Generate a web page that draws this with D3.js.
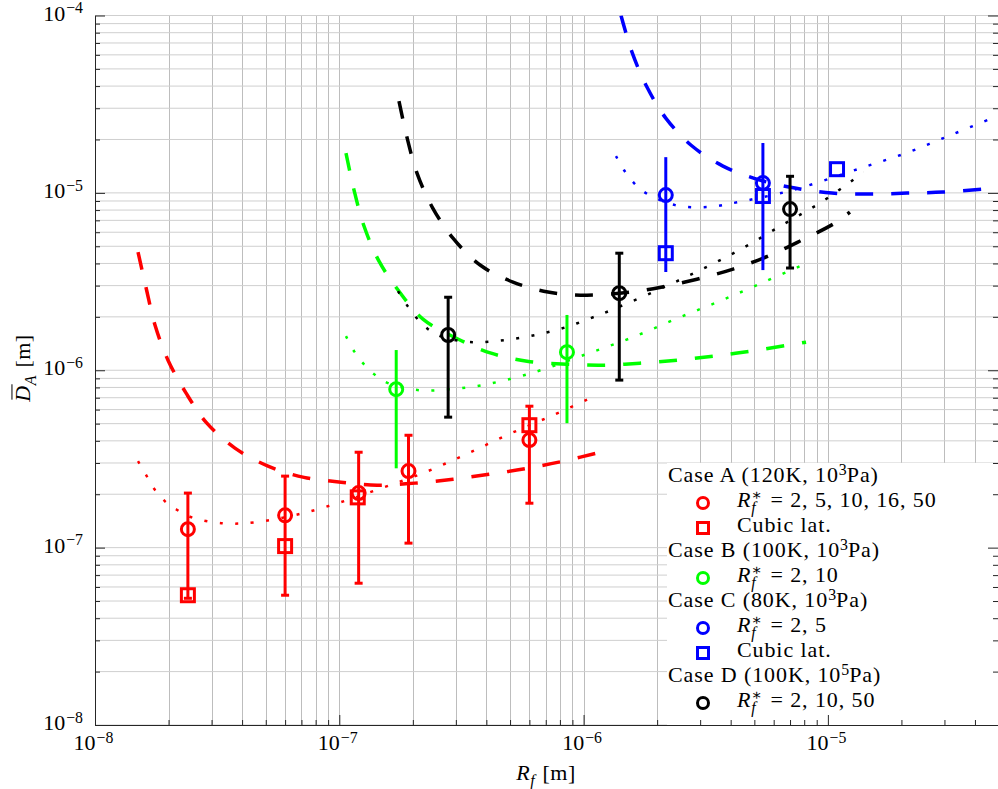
<!DOCTYPE html>
<html>
<head>
<meta charset="utf-8">
<script src="https://cdn.jsdelivr.net/npm/d3@7"></script>
<style>
body { margin: 0; background: #fff; }
svg { display: block; font-family: "Liberation Serif", "DejaVu Serif", serif; }
</style>
</head>
<body>
<svg id="chart" width="998" height="789"></svg>
<script>

// ---- Case A (120K, 1e3 Pa), red
var caseA_Rf = [2.4e-8, 6.0e-8, 1.2e-7, 1.92e-7, 6.0e-7];
var caseA_D  = [1.27e-7, 1.52e-7, 2.03e-7, 2.70e-7, 4.04e-7];
var caseA_lo = [5.18e-8, 5.39e-8, 6.30e-8, 1.06e-7, 1.78e-7];
var caseA_hi = [2.03e-7, 2.53e-7, 3.45e-7, 4.30e-7, 6.27e-7];
var caseA_cubicRf = [2.4e-8, 6.0e-8, 1.19e-7, 6.0e-7];
var caseA_cubicD  = [5.39e-8, 1.02e-7, 1.92e-7, 4.90e-7];

// ---- Case B (100K, 1e3 Pa), green
var caseB_Rf = [1.71e-7, 8.55e-7];
var caseB_D  = [7.82e-7, 1.265e-6];
var caseB_lo = [2.80e-7, 5.03e-7];
var caseB_hi = [1.30e-6, 2.05e-6];

// ---- Case C (80K, 1e3 Pa), blue
var caseC_Rf = [2.17e-6, 5.42e-6];
var caseC_D  = [9.72e-6, 1.136e-5];
var caseC_lo = [3.58e-6, 3.67e-6];
var caseC_hi = [1.59e-5, 1.91e-5];
var caseC_cubicRf = [2.17e-6, 5.42e-6, 1.09e-5];
var caseC_cubicD  = [4.57e-6, 9.6e-6, 1.36e-5];

// ---- Case D (100K, 1e5 Pa), black
var caseD_Rf = [2.79e-7, 1.40e-6, 7.0e-6];
var caseD_D  = [1.58e-6, 2.72e-6, 8.1e-6];
var caseD_lo = [5.44e-7, 8.8e-7, 3.77e-6];
var caseD_hi = [2.58e-6, 4.57e-6, 1.24e-5];

// model curves [Rf, D]
var caseA_dash = [[1.50e-8,4.64e-6],[1.62e-8,2.90e-6],[1.76e-8,1.80e-6],[1.99e-8,1.14e-6],[2.36e-8,7.43e-7],
  [2.87e-8,5.03e-7],[3.74e-8,3.64e-7],[5.11e-8,2.88e-7],[7.17e-8,2.49e-7],[1.016e-7,2.34e-7],[1.43e-7,2.25e-7],
  [2.04e-7,2.31e-7],[2.92e-7,2.43e-7],[4.10e-7,2.59e-7],[5.87e-7,2.80e-7],[8.23e-7,3.07e-7],[1.22e-6,3.50e-7]];
var caseA_dot = [[1.50e-8,3.07e-7],[1.62e-8,2.56e-7],[1.74e-8,2.16e-7],[1.93e-8,1.83e-7],[2.17e-8,1.63e-7],
  [2.49e-8,1.48e-7],[3.34e-8,1.37e-7],[4.52e-8,1.39e-7],[7.04e-8,1.56e-7],[1.075e-7,1.85e-7],[1.44e-7,2.13e-7],
  [2.20e-7,2.63e-7],[3.30e-7,3.36e-7],[4.95e-7,4.36e-7],[7.49e-7,5.58e-7],[1.134e-6,7.24e-7]];
var caseB_dash = [[1.065e-7,1.677e-5],[1.149e-7,1.037e-5],[1.262e-7,6.50e-6],[1.454e-7,4.12e-6],[1.755e-7,2.79e-6],
  [2.20e-7,1.94e-6],[3.00e-7,1.52e-6],[4.18e-7,1.248e-6],[5.87e-7,1.125e-6],[8.55e-7,1.082e-6],[1.19e-6,1.068e-6],
  [1.70e-6,1.096e-6],[2.41e-6,1.14e-6],[3.39e-6,1.20e-6],[4.84e-6,1.281e-6],[6.87e-6,1.385e-6],[8.14e-6,1.44e-6]];
var caseB_dot = [[1.065e-7,1.557e-6],[1.149e-7,1.281e-6],[1.25e-7,1.096e-6],[1.387e-7,9.51e-7],[1.582e-7,8.46e-7],
  [2.12e-7,7.72e-7],[2.865e-7,7.82e-7],[3.84e-7,8.24e-7],[5.14e-7,9.02e-7],[6.88e-7,1.014e-6],[1.052e-6,1.248e-6],
  [1.593e-6,1.537e-6],[2.43e-6,1.967e-6],[3.69e-6,2.485e-6],[5.58e-6,3.18e-6],[8.37e-6,4.07e-6]];
var caseC_dash = [[1.423e-6,1.0e-4],[1.578e-6,6.22e-5],[1.817e-6,3.95e-5],[2.17e-6,2.64e-5],[2.78e-6,1.837e-5],
  [3.72e-6,1.416e-5],[5.27e-6,1.181e-5],[7.33e-6,1.064e-5],[1.039e-5,9.97e-6],[1.474e-5,9.84e-6],[2.11e-5,9.97e-6],
  [2.96e-5,1.010e-5],[4.27e-5,1.050e-5],[4.97e-5,1.064e-5]];
var caseC_dot = [[1.357e-6,1.613e-5],[1.463e-6,1.345e-5],[1.608e-6,1.136e-5],[1.80e-6,9.97e-6],[2.37e-6,8.53e-6],
  [3.20e-6,8.32e-6],[4.29e-6,8.87e-6],[6.67e-6,1.010e-5],[8.94e-6,1.136e-5],[1.366e-5,1.38e-5],[2.09e-5,1.677e-5],
  [3.19e-5,2.12e-5],[4.83e-5,2.68e-5]];
var caseD_dash = [[1.755e-7,3.29e-5],[1.892e-7,2.06e-5],[2.08e-7,1.293e-5],[2.40e-7,8.32e-6],[2.92e-7,5.56e-6],
  [3.77e-7,3.92e-6],[5.14e-7,3.14e-6],[7.15e-7,2.76e-6],[1.023e-6,2.65e-6],[1.548e-6,2.76e-6],[2.074e-6,2.94e-6],
  [2.91e-6,3.26e-6],[4.09e-6,3.72e-6],[5.69e-6,4.40e-6],[7.83e-6,5.42e-6],[1.069e-5,6.76e-6],[1.231e-5,7.79e-6]];
var caseD_dot = [[1.739e-7,2.79e-6],[1.892e-7,2.33e-6],[2.06e-7,1.99e-6],[2.31e-7,1.705e-6],[2.66e-7,1.537e-6],
  [3.53e-7,1.44e-6],[4.72e-7,1.478e-6],[6.33e-7,1.578e-6],[8.47e-7,1.75e-6],[1.124e-6,2.02e-6],[1.295e-6,2.18e-6],
  [1.96e-6,2.79e-6],[2.94e-6,3.62e-6],[4.41e-6,4.82e-6],[6.49e-6,6.58e-6],[9.55e-6,8.99e-6],[1.40e-5,1.31e-5]];

var xMajor = [1e-8, 1e-7, 1e-6, 1e-5];
var yMajor = [1e-8, 1e-7, 1e-6, 1e-5, 1e-4];
var xMajorExp = ["\u22128", "\u22127", "\u22126", "\u22125"];
var yMajorExp = ["\u22128", "\u22127", "\u22126", "\u22125", "\u22124"];

var RED = "#ff0000", GREEN = "#00ff00", BLUE = "#0000ff", BLACK = "#000000";

var plotL = 95, plotR = 998, plotT = 15.5, plotB = 725;
var FS = 22;

var svg = d3.select("#chart");

var x = d3.scaleLog().domain([1e-8, 4.97e-5]).range([plotL, plotR]);
var y = d3.scaleLog().domain([1e-8, 1e-4]).range([plotB, plotT]);

function zip(a, b) { return a.map(function(v, i){ return [v, b[i]]; }); }

// little helper for text with italics, sub and superscripts
function rich(parent, parts, size, anchor, ls) {
	var g = parent.append("g");
	var inner = g.append("g");
	var cx = 0, stackW = 0;
	ls = ls || 0;
	parts.forEach(function(p){
		var small = p.sup || p.sub;
		var dy = p.sup ? -size*0.33 : (p.sub ? size*0.27 : 0);
		cx += p.dx || 0;
		var t = inner.append("text")
			.attr("x", cx)
			.attr("y", dy)
			.attr("font-size", small ? size*0.72 : size)
			.attr("xml:space", "preserve")
			.style("font-style", p.it ? "italic" : "normal")
			.style("letter-spacing", small ? 0 : ls + "px")
			.attr("fill", "#000")
			.text(p.t);
		var w = t.node().getComputedTextLength();
		if (p.over) {
			inner.append("line")
				.attr("x1", cx + 2).attr("x2", cx + w + 1)
				.attr("y1", -size*0.82).attr("y2", -size*0.82)
				.attr("stroke", "#000").attr("stroke-width", 1);
		}
		if (p.stack) { stackW = w; }
		else { cx += Math.max(w, stackW); stackW = 0; }
	});
	if (anchor == "middle") inner.attr("transform", "translate(" + (-cx/2) + ",0)");
	if (anchor == "end") inner.attr("transform", "translate(" + (-cx) + ",0)");
	return g;
}

function rstar(vals) {
	return [{t:"R", it:1}, {t:"\u2217", sup:1, stack:1}, {t:"f", it:1, sub:1}, {t:" = " + vals, dx:2}];
}

// clip
svg.append("clipPath").attr("id", "plotclip")
	.append("rect").attr("x", plotL).attr("y", plotT).attr("width", plotR - plotL).attr("height", plotB - plotT);

// grid
var xAll = x.ticks().filter(function(d){ return d <= 4.97e-5; });
var yAll = y.ticks();
var grid = svg.append("g").attr("class", "grid");
grid.selectAll(".gx").data(xAll).enter().append("line")
	.attr("x1", function(d){ return Math.round(x(d)) + 0.5; })
	.attr("x2", function(d){ return Math.round(x(d)) + 0.5; })
	.attr("y1", plotT).attr("y2", plotB)
	.attr("stroke", "#bdbdbd").attr("stroke-width", 1);
grid.selectAll(".gy").data(yAll).enter().append("line")
	.attr("y1", function(d){ return y(d); })
	.attr("y2", function(d){ return y(d); })
	.attr("x1", plotL).attr("x2", plotR)
	.attr("stroke", "#cfcfcf").attr("stroke-width", 1);

// model curves
var curves = [
	{data: caseA_dash, color: RED, dash: true},
	{data: caseA_dot, color: RED, dash: false},
	{data: caseB_dash, color: GREEN, dash: true},
	{data: caseB_dot, color: GREEN, dash: false},
	{data: caseC_dash, color: BLUE, dash: true},
	{data: caseC_dot, color: BLUE, dash: false},
	{data: caseD_dash, color: BLACK, dash: true},
	{data: caseD_dot, color: BLACK, dash: false}
];

var line = d3.line()
	.x(function(d){ return x(d[0]); })
	.y(function(d){ return y(d[1]); })
	.curve(d3.curveCatmullRom.alpha(0.5));

svg.append("g").attr("clip-path", "url(#plotclip)")
	.selectAll("path").data(curves).enter().append("path")
	.attr("d", function(d){ return line(d.data); })
	.attr("fill", "none")
	.attr("stroke", function(d){ return d.color; })
	.attr("stroke-width", function(d){ return d.dash ? 3.5 : 2.5; })
	.attr("stroke-dasharray", function(d){ return d.dash ? "18,18" : "3,12.5"; });

// error bars
var bars = [
	{rf: caseA_Rf, lo: caseA_lo, hi: caseA_hi, color: RED, cap: true},
	{rf: caseB_Rf, lo: caseB_lo, hi: caseB_hi, color: GREEN, cap: false},
	{rf: caseC_Rf, lo: caseC_lo, hi: caseC_hi, color: BLUE, cap: false},
	{rf: caseD_Rf, lo: caseD_lo, hi: caseD_hi, color: BLACK, cap: true}
];

bars.forEach(function(b){
	var g = svg.append("g").attr("stroke", b.color).attr("stroke-width", 3);
	var rows = b.rf.map(function(v, i){ return {x: v, lo: b.lo[i], hi: b.hi[i]}; });
	g.selectAll(".eb").data(rows).enter().append("line")
		.attr("x1", function(d){ return x(d.x); })
		.attr("x2", function(d){ return x(d.x); })
		.attr("y1", function(d){ return y(d.lo); })
		.attr("y2", function(d){ return y(d.hi); });
	if (b.cap) {
		["lo", "hi"].forEach(function(k){
			g.selectAll(".cap" + k).data(rows).enter().append("line")
				.attr("x1", function(d){ return x(d.x) - 4; })
				.attr("x2", function(d){ return x(d.x) + 4; })
				.attr("y1", function(d){ return y(d[k]); })
				.attr("y2", function(d){ return y(d[k]); });
		});
	}
});

// markers
var markers = [
	{pts: zip(caseA_Rf, caseA_D), color: RED, shape: "circle"},
	{pts: zip(caseA_cubicRf, caseA_cubicD), color: RED, shape: "square"},
	{pts: zip(caseB_Rf, caseB_D), color: GREEN, shape: "circle"},
	{pts: zip(caseC_Rf, caseC_D), color: BLUE, shape: "circle"},
	{pts: zip(caseC_cubicRf, caseC_cubicD), color: BLUE, shape: "square"},
	{pts: zip(caseD_Rf, caseD_D), color: BLACK, shape: "circle"}
];

function drawMark(g, shape, color, cx, cy, s) {
	if (shape == "circle") {
		g.append("circle").attr("cx", cx).attr("cy", cy).attr("r", s)
			.attr("fill", "none").attr("stroke", color).attr("stroke-width", 3);
	} else {
		g.append("rect").attr("x", cx - s).attr("y", cy - s).attr("width", 2*s).attr("height", 2*s)
			.attr("fill", "none").attr("stroke", color).attr("stroke-width", 3);
	}
}

var markG = svg.append("g");
markers.forEach(function(m){
	m.pts.forEach(function(p){
		drawMark(markG, m.shape, m.color, x(p[0]), y(p[1]), 6.5);
	});
});

// legend
var legendRows = [
	{parts: [{t:"Case A (120K, 10"}, {t:"3", sup:1}, {t:"Pa)"}]},
	{parts: rstar("2, 5, 10, 16, 50"), shape: "circle", color: RED},
	{parts: [{t:"Cubic lat."}], shape: "square", color: RED},
	{parts: [{t:"Case B (100K, 10"}, {t:"3", sup:1}, {t:"Pa)"}]},
	{parts: rstar("2, 10"), shape: "circle", color: GREEN},
	{parts: [{t:"Case C (80K, 10"}, {t:"3", sup:1}, {t:"Pa)"}]},
	{parts: rstar("2, 5"), shape: "circle", color: BLUE},
	{parts: [{t:"Cubic lat."}], shape: "square", color: BLUE},
	{parts: [{t:"Case D (100K, 10"}, {t:"5", sup:1}, {t:"Pa)"}]},
	{parts: rstar("2, 10, 50"), shape: "circle", color: BLACK}
];

var leg = svg.append("g");
leg.append("rect").attr("x", 667).attr("y", 463).attr("width", plotR - 667).attr("height", plotB - 463)
	.attr("fill", "#fff");
legendRows.forEach(function(r, i){
	var by = 482 + i * 25;
	if (r.shape) {
		drawMark(leg, r.shape, r.color, 703, by - 4, 5.5);
		rich(leg, r.parts, FS, "start", 0.9).attr("transform", "translate(737," + by + ")");
	} else {
		rich(leg, r.parts, FS, "start", 0.9).attr("transform", "translate(668," + by + ")");
	}
});

// axes (ticks point inwards)
var axColor = "#262626";
var xMinor = xAll.filter(function(d){ return xMajor.indexOf(d) < 0; });
var yMinor = yAll.filter(function(d){ return yMajor.indexOf(d) < 0; });

function styleAxis(g) {
	g.selectAll("path, line").attr("stroke", axColor);
	g.selectAll("text").remove();
}

svg.append("g").attr("transform", "translate(0," + plotB + ")")
	.call(d3.axisBottom(x).tickValues(xMinor).tickSize(-5).tickSizeOuter(0).tickFormat(""))
	.call(styleAxis);
svg.append("g").attr("transform", "translate(0," + plotB + ")")
	.call(d3.axisBottom(x).tickValues(xMajor).tickSize(-10).tickSizeOuter(0).tickFormat(""))
	.call(styleAxis);
svg.append("g").attr("transform", "translate(" + plotL + ",0)")
	.call(d3.axisLeft(y).tickValues(yMinor).tickSize(-5).tickSizeOuter(0).tickFormat(""))
	.call(styleAxis);
svg.append("g").attr("transform", "translate(" + plotL + ",0)")
	.call(d3.axisLeft(y).tickValues(yMajor).tickSize(-10).tickSizeOuter(0).tickFormat(""))
	.call(styleAxis);
// right side ticks
svg.append("g").attr("transform", "translate(" + plotR + ",0)")
	.call(d3.axisRight(y).tickValues(yMinor).tickSize(-5).tickSizeOuter(0).tickFormat(""))
	.call(styleAxis)
	.call(function(g){ g.select(".domain").remove(); });
svg.append("g").attr("transform", "translate(" + plotR + ",0)")
	.call(d3.axisRight(y).tickValues(yMajor).tickSize(-10).tickSizeOuter(0).tickFormat(""))
	.call(styleAxis)
	.call(function(g){ g.select(".domain").remove(); });

// tick labels
xMajor.forEach(function(v, i){
	rich(svg, [{t:"10"}, {t:xMajorExp[i], sup:1, dx:1}], FS, "middle")
		.attr("transform", "translate(" + (x(v) - 1.5) + ",750)");
});
yMajor.forEach(function(v, i){
	rich(svg, [{t:"10"}, {t:yMajorExp[i], sup:1, dx:1}], FS, "end")
		.attr("transform", "translate(83," + (y(v) + 5) + ")");
});

// axis titles
rich(svg, [{t:"R", it:1}, {t:"f", it:1, sub:1}, {t:" [m]", dx:2}], FS, "middle", 0.5)
	.attr("transform", "translate(546,780)");
rich(svg, [{t:"D", it:1, over:1}, {t:"A", it:1, sub:1}, {t:" [m]", dx:2}], FS, "middle", 0.5)
	.attr("transform", "translate(30,368) rotate(-90)");

</script>
</body>
</html>
